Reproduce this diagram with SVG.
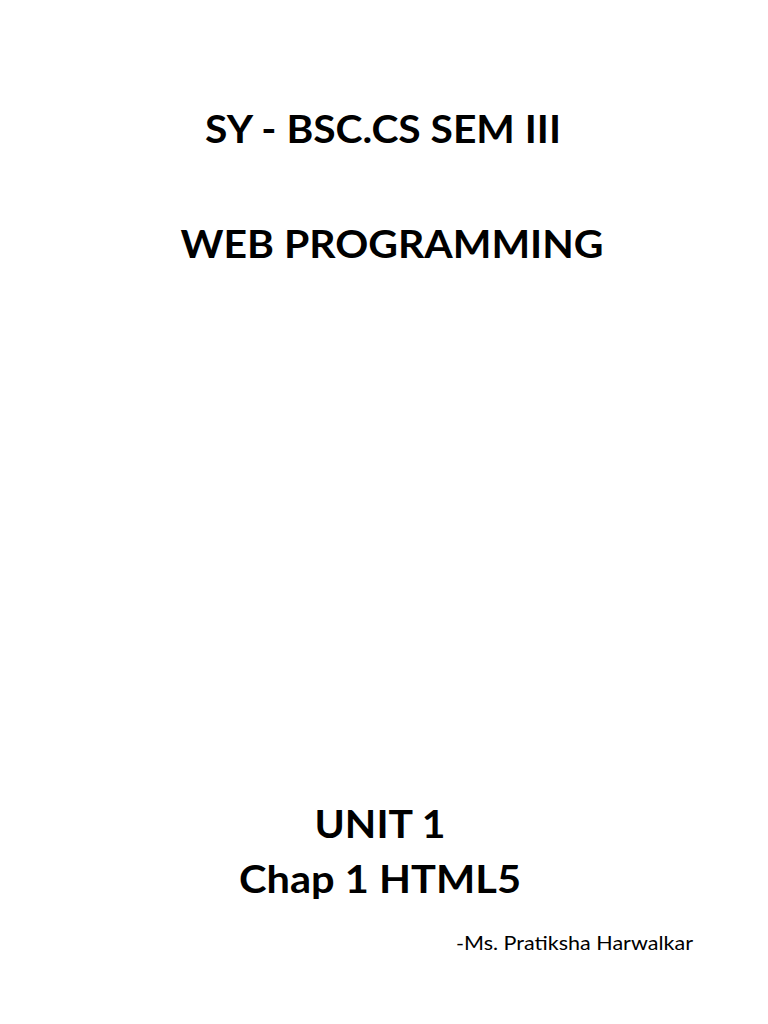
<svg xmlns="http://www.w3.org/2000/svg" width="768" height="1024" viewBox="0 0 768 1024">
<style>
.t{font-family:Lato,"Open Sans","Liberation Sans",sans-serif;font-weight:bold;font-size:38px;fill:#000;text-anchor:middle}
.s{font-family:Lato,"Open Sans","Liberation Sans",sans-serif;font-size:19px;fill:#000}
</style>
<rect width="768" height="1024" fill="#fff"/>
<g id="title1"><text class="t" x="383" y="143" textLength="356" lengthAdjust="spacingAndGlyphs">SY - BSC.CS SEM III</text></g>
<g id="title2"><text class="t" x="392" y="258" textLength="423" lengthAdjust="spacingAndGlyphs">WEB PROGRAMMING</text></g>
<g id="unit"><text class="t" x="380" y="838" textLength="131" lengthAdjust="spacingAndGlyphs">UNIT 1</text></g>
<g id="chap"><text class="t" x="380" y="893" textLength="282" lengthAdjust="spacingAndGlyphs">Chap 1 HTML5</text></g>
<g id="author"><text class="s" x="456" y="950" textLength="237" lengthAdjust="spacingAndGlyphs">-Ms. Pratiksha Harwalkar</text></g>
<g id="connectors"/>
</svg>
